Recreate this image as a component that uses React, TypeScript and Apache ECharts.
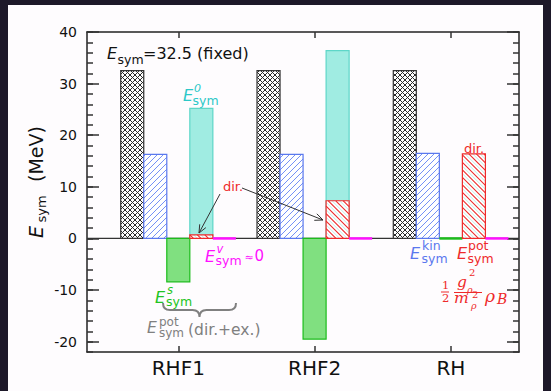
import React, { useEffect, useRef } from 'react';
import * as echarts from 'echarts';

// ---- data ----
const categories = ['RHF1', 'RHF2', 'RH'];
const categoryPositions = [1, 2, 3];
const esymTotal = [32.5, 32.5, 32.5];
const esymKin = [16.3, 16.3, 16.5];
const esymScalar = [-8.4, -19.5, 0];
const esymZero: (number | null)[] = [25.2, 36.4, null];
const esymPotDir = [0.7, 7.3, 16.4];
const esymVector = [0, 0, 0];
const yMajorTicks = [-20, -10, 0, 10, 20, 30, 40];

const FONT = 'DejaVu Sans';
const SERIF = 'DejaVu Serif';
const SLOT = 0.169;

const C = {
  blue: '#5a78ee',
  blueHatch: '#4f74f2',
  red: '#ee2a2a',
  cyanFill: '#a0ece2',
  cyanStroke: '#5ed6c8',
  cyanText: '#2cc8c8',
  paleCyan: '#bfeee8',
  greenFill: '#80e080',
  greenStroke: '#1cbc1c',
  greenText: '#22c422',
  magenta: '#ff10ff',
  gray: '#808080',
  axis: '#222',
};

type Hatch = { spacing: number; dirs: { dir: 1 | -1; color: string; width: number; offset: number }[] };

const HATCH_CROSS: Hatch = {
  spacing: 5,
  dirs: [
    { dir: 1, color: '#2a2a2a', width: 1, offset: 0 },
    { dir: -1, color: '#2a2a2a', width: 1, offset: 0 },
  ],
};
const HATCH_BLUE: Hatch = { spacing: 6, dirs: [{ dir: 1, color: C.blueHatch, width: 0.8, offset: 0 }] };
const HATCH_RED: Hatch = {
  spacing: 7.5,
  dirs: [
    { dir: -1, color: C.paleCyan, width: 1, offset: 3.75 },
    { dir: -1, color: C.red, width: 1.1, offset: 0 },
  ],
};

function hatchLines(x0: number, y0: number, w: number, h: number, hatch: Hatch): any[] {
  const out: any[] = [];
  const s = hatch.spacing;
  for (const d of hatch.dirs) {
    if (d.dir === 1) {
      const cMin = x0 + y0;
      const cMax = x0 + w + y0 + h;
      for (let c = Math.ceil((cMin - d.offset) / s) * s + d.offset; c <= cMax; c += s) {
        const xa = Math.max(x0, c - y0 - h);
        const xb = Math.min(x0 + w, c - y0);
        if (xb - xa > 0.3) {
          out.push({
            type: 'line',
            silent: true,
            shape: { x1: xa, y1: c - xa, x2: xb, y2: c - xb },
            style: { stroke: d.color, lineWidth: d.width, fill: 'none' },
          });
        }
      }
    } else {
      const kMin = y0 - (x0 + w);
      const kMax = y0 + h - x0;
      for (let k = Math.ceil((kMin - d.offset) / s) * s + d.offset; k <= kMax; k += s) {
        const xa = Math.max(x0, y0 - k);
        const xb = Math.min(x0 + w, y0 + h - k);
        if (xb - xa > 0.3) {
          out.push({
            type: 'line',
            silent: true,
            shape: { x1: xa, y1: xa + k, x2: xb, y2: xb + k },
            style: { stroke: d.color, lineWidth: d.width, fill: 'none' },
          });
        }
      }
    }
  }
  return out;
}

function barSeries(
  name: string,
  slot: number,
  values: (number | null)[],
  fill: string,
  stroke: string,
  hatch: Hatch | null,
  z: number
) {
  const data: number[][] = [];
  values.forEach((v, i) => {
    if (v !== null) data.push([categoryPositions[i], v]);
  });
  return {
    name,
    type: 'custom',
    xAxisIndex: 0,
    yAxisIndex: 0,
    z,
    data,
    encode: { x: 0, y: 1 },
    renderItem: (_p: any, api: any) => {
      const c = api.value(0);
      const v = api.value(1);
      const a = api.coord([c + (slot - 0.5) * SLOT, 0]);
      const b = api.coord([c + (slot + 0.5) * SLOT, v]);
      if (v === 0) {
        return {
          type: 'line',
          shape: { x1: a[0], y1: a[1], x2: b[0], y2: a[1] },
          style: { stroke, lineWidth: 2.5 },
        };
      }
      const x0 = a[0];
      const y0 = Math.min(a[1], b[1]);
      const w = b[0] - a[0];
      const h = Math.abs(b[1] - a[1]);
      const children: any[] = [{ type: 'rect', shape: { x: x0, y: y0, width: w, height: h }, style: { fill, stroke: 'none' } }];
      if (hatch) children.push(...hatchLines(x0, y0, w, h, hatch));
      children.push({
        type: 'rect',
        shape: { x: x0, y: y0, width: w, height: h },
        style: { fill: 'none', stroke, lineWidth: 1.2 },
      });
      return { type: 'group', children };
    },
  };
}

function t(x: number, y: number, text: string, size: number, color: string, italic = false, family = FONT): any {
  return {
    type: 'text',
    x,
    y,
    z: 100,
    silent: true,
    style: {
      text,
      fontSize: size,
      fontFamily: family,
      fontStyle: italic ? 'italic' : 'normal',
      fill: color,
      align: 'left',
      verticalAlign: 'middle',
    },
  };
}

function arrow(x1: number, y1: number, x2: number, y2: number): any[] {
  const dx = x2 - x1;
  const dy = y2 - y1;
  const len = Math.hypot(dx, dy);
  const ux = dx / len;
  const uy = dy / len;
  const bx = x2 - 8 * ux;
  const by = y2 - 8 * uy;
  const nx = -uy;
  const ny = ux;
  return [
    { type: 'line', z: 100, silent: true, shape: { x1, y1, x2, y2 }, style: { stroke: '#333', lineWidth: 1 } },
    {
      type: 'polyline',
      z: 100,
      silent: true,
      shape: { points: [[bx + 3.5 * nx, by + 3.5 * ny], [x2, y2], [bx - 3.5 * nx, by - 3.5 * ny]] },
      style: { stroke: '#333', lineWidth: 1, fill: 'none' },
    },
  ];
}

export default function App() {
  const ref = useRef<HTMLDivElement>(null);
  useEffect(() => {
    if (!ref.current) return;
    echarts.graphic.registerShape(
      'brace',
      echarts.graphic.extendPath('M0,0 Q0,7 7,7 L29.5,7 Q36.5,7 36.5,14 Q36.5,7 43.5,7 L66,7 Q73,7 73,0', {}) as any
    );
    const chart = echarts.init(ref.current, undefined, { renderer: 'svg' });

    const axisLine = { show: true, onZero: false, lineStyle: { color: C.axis, width: 1.5 } };
    const tickStyle = { color: '#333', width: 1.5 };

    const yAxisMajor = (position: string, labels: boolean) => ({
      type: 'value',
      min: -22,
      max: 40,
      position,
      axisLine,
      axisTick: { show: true, inside: true, length: 12, customValues: yMajorTicks, lineStyle: tickStyle },
      axisLabel: {
        show: labels,
        customValues: yMajorTicks,
        fontSize: 14,
        fontFamily: FONT,
        color: '#111',
        margin: 10,
      },
      splitLine: { show: false },
    });
    const yAxisMinor = (position: string) => ({
      type: 'value',
      min: -22,
      max: 40,
      interval: 2,
      position,
      axisLine: { show: false },
      axisTick: { show: true, inside: true, length: 6, lineStyle: tickStyle },
      axisLabel: { show: false },
      splitLine: { show: false },
    });
    const xAxis = (position: string, labels: boolean) => ({
      type: 'value',
      min: 0.33,
      max: 3.5,
      position,
      axisLine,
      axisTick: { show: true, inside: true, length: 6, customValues: categoryPositions, lineStyle: tickStyle },
      axisLabel: {
        show: labels,
        customValues: categoryPositions,
        formatter: (v: number) => {
          const i = categoryPositions.indexOf(Math.round(v));
          return i >= 0 ? categories[i] : '';
        },
        fontSize: 20,
        fontFamily: FONT,
        color: '#111',
        margin: 6,
      },
      splitLine: { show: false },
    });

    const graphic: any[] = [
      // E_sym = 32.5 (fixed)
      t(107, 53.5, 'E', 16, '#111', true),
      t(117.5, 59, 'sym', 12.5, '#111'),
      t(143, 53.5, '=32.5 (fixed)', 16, '#111'),
      // E^0_sym
      t(183, 95, 'E', 16, C.cyanText, true),
      t(194, 88.5, '0', 11, C.cyanText, true),
      t(192.5, 100.5, 'sym', 12.5, C.cyanText),
      // dir. (RHF)
      t(223, 186, 'dir.', 13, C.red),
      ...arrow(220, 194, 199, 233),
      ...arrow(242, 188, 323, 220),
      // E^v_sym ≈ 0
      t(205, 256, 'E', 16, C.magenta, true),
      t(216.5, 248.5, 'v', 11.5, C.magenta, true),
      t(215.5, 260.5, 'sym', 12.5, C.magenta),
      t(244.5, 257, '≈', 11, C.magenta),
      t(254.5, 256, '0', 15, C.magenta),
      // E^s_sym
      t(155, 297, 'E', 16, C.greenText, true),
      t(167, 289.5, 's', 11.5, C.greenText, true),
      t(166, 301.5, 'sym', 12.5, C.greenText),
      // brace
      { type: 'brace', x: 163, y: 303, z: 100, silent: true, style: { stroke: C.gray, fill: 'none', lineWidth: 2 } },
      // E^pot_sym (dir.+ex.)
      t(147, 328, 'E', 15.5, C.gray, true),
      t(159, 321.5, 'pot', 12, C.gray),
      t(159, 333, 'sym', 12, C.gray),
      t(188, 330, '(dir.+ex.)', 15.5, C.gray),
      // E^kin_sym
      t(410, 253, 'E', 16, C.blue, true),
      t(422, 245.5, 'kin', 12.5, C.blue),
      t(421.5, 258.5, 'sym', 12.5, C.blue),
      // E^pot_sym
      t(457, 253, 'E', 16, C.red, true),
      t(468, 245.5, 'pot', 12.5, C.red),
      t(467.5, 258.5, 'sym', 12.5, C.red),
      // dir. (RH)
      t(464, 148, 'dir.', 13, C.red),
      // formula 1/2 g^2/m^2 rho_B
      t(442, 285, '1', 11.5, C.red, false, SERIF),
      { type: 'line', z: 100, silent: true, shape: { x1: 441, y1: 292, x2: 449, y2: 292 }, style: { stroke: C.red, lineWidth: 1 } },
      t(442, 297.5, '2', 11.5, C.red, false, SERIF),
      t(457, 282, 'g', 15.5, C.red, true, SERIF),
      t(469, 272.5, '2', 10, C.red, false, SERIF),
      t(467, 289, 'ρ', 9.5, C.red, true, SERIF),
      { type: 'line', z: 100, silent: true, shape: { x1: 454, y1: 292.5, x2: 482, y2: 292.5 }, style: { stroke: C.red, lineWidth: 1 } },
      t(454, 297.5, 'm', 15.5, C.red, true, SERIF),
      t(472, 294.5, '2', 10, C.red, false, SERIF),
      t(471, 305, 'ρ', 9.5, C.red, true, SERIF),
      t(485, 296, 'ρ', 17, C.red, true, SERIF),
      t(497, 298.5, 'B', 14, C.red, true, SERIF),
      // y-axis name
      {
        type: 'group',
        x: 36,
        y: 238,
        rotation: Math.PI / 2,
        children: [
          t(0, 0, 'E', 19, '#111', true),
          t(15.5, 5, 'sym', 13, '#111'),
          t(56, 0, '(MeV)', 19, '#111'),
        ],
      },
    ];

    chart.setOption({
      animation: false,
      backgroundColor: 'transparent',
      grid: { left: 87, right: 32, top: 32, bottom: 39, containLabel: false },
      xAxis: [xAxis('bottom', true), xAxis('top', false)],
      yAxis: [yAxisMajor('left', true), yAxisMinor('left'), yAxisMajor('right', false), yAxisMinor('right')],
      series: [
        {
          type: 'line',
          xAxisIndex: 0,
          yAxisIndex: 0,
          z: 1,
          symbol: 'none',
          silent: true,
          data: [[0.33, 0], [3.5, 0]],
          lineStyle: { color: '#333', width: 1.2 },
        },
        barSeries('Esym', -2, esymTotal, '#ffffff', '#333', HATCH_CROSS, 2),
        barSeries('Ekin', -1, esymKin, '#ffffff', C.blue, HATCH_BLUE, 2),
        barSeries('Es', 0, esymScalar, C.greenFill, C.greenStroke, null, 3),
        barSeries('E0', 1, esymZero, C.cyanFill, C.cyanStroke, null, 2),
        barSeries('Epotdir', 1, esymPotDir, '#ffffff', C.red, HATCH_RED, 3),
        barSeries('Ev', 2, esymVector, C.magenta, C.magenta, null, 3),
      ],
      graphic,
    } as any);
    return () => chart.dispose();
  }, []);

  return (
    <div style={{ position: 'fixed', left: 0, top: 0, width: 551, height: 391, background: '#1d1829', overflow: 'hidden' }}>
      <div style={{ position: 'absolute', left: 8, top: 5, width: 535, height: 386, background: '#fefcfe' }} />
      <div ref={ref} style={{ position: 'absolute', left: 0, top: 0, width: 551, height: 391 }} />
    </div>
  );
}
